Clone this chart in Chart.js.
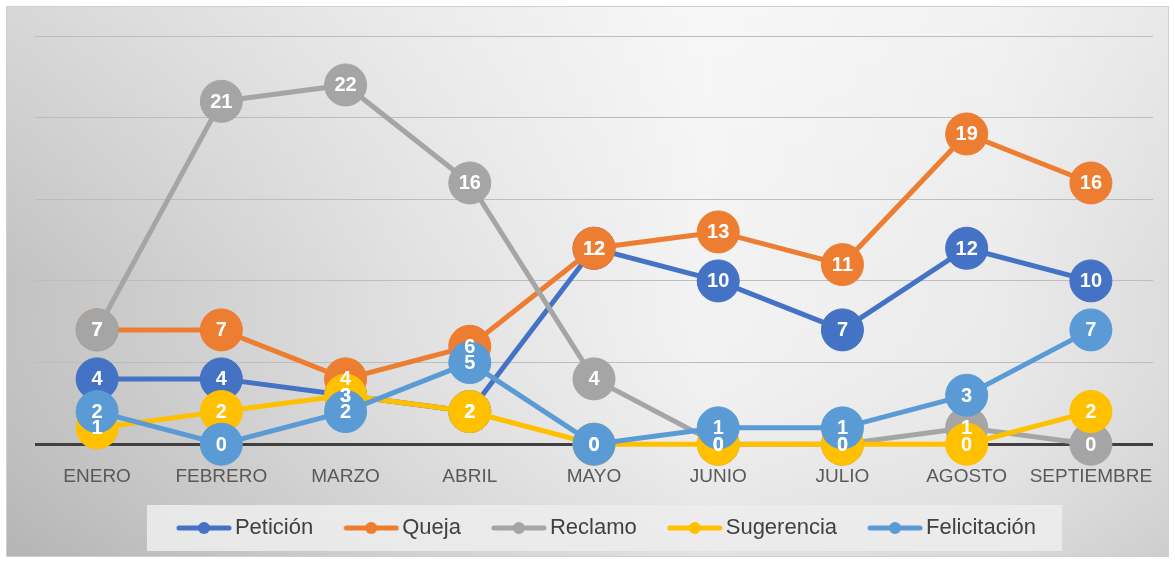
<!DOCTYPE html>
<html>
<head>
<meta charset="utf-8">
<script src="https://cdn.jsdelivr.net/npm/chart.js@4.4.0/dist/chart.umd.min.js"></script>
<style>
  html, body { margin: 0; padding: 0; background: #ffffff; }
  #wrap { width: 1175px; height: 562px; position: relative; }
  canvas { display: block; }
</style>
</head>
<body>
<div id="wrap"><canvas id="c" width="1175" height="562"></canvas></div>
<script>
const categories = ['ENERO','FEBRERO','MARZO','ABRIL','MAYO','JUNIO','JULIO','AGOSTO','SEPTIEMBRE'];
const peticion     = [4, 4, 3, 2, 12, 10, 7, 12, 10];
const queja        = [7, 7, 4, 6, 12, 13, 11, 19, 16];
const reclamo      = [7, 21, 22, 16, 4, 0, 0, 1, 0];
const sugerencia   = [1, 2, 3, 2, 0, 0, 0, 0, 2];
const felicitacion = [2, 0, 2, 5, 0, 1, 1, 3, 7];
const seriesNames  = ['Petición','Queja','Reclamo','Sugerencia','Felicitación'];
const seriesColors = ['#4472C4','#ED7D31','#A5A5A5','#FFC000','#5B9BD5'];
const yMin = 0, yMax = 25, yStep = 5;

const FONT = "'Liberation Sans', Arial, sans-serif";
const LEG_W = 70;

function legendSymbol(color) {
  const c = document.createElement('canvas');
  c.width = LEG_W + 16; c.height = 14;
  const g = c.getContext('2d');
  const x0 = c.width - 56;
  g.strokeStyle = color; g.lineWidth = 5; g.lineCap = 'round';
  g.beginPath(); g.moveTo(x0 + 3, 7); g.lineTo(x0 + 53, 7); g.stroke();
  g.fillStyle = color;
  g.beginPath(); g.arc(x0 + 28, 7, 6, 0, Math.PI * 2); g.fill();
  return c;
}
const symbols = seriesColors.map(legendSymbol);

const bgPlugin = {
  id: 'bg',
  beforeDraw(chart) {
    const ctx = chart.ctx, W = chart.width, H = chart.height;
    ctx.save();
    ctx.fillStyle = '#ffffff';
    ctx.fillRect(0, 0, W, H);
    const x0 = 7, y0 = 7, x1 = W - 7, y1 = H - 6;
    const g = ctx.createLinearGradient(x0, 0, x1, 0);
    g.addColorStop(0, '#c2c2c2');
    g.addColorStop(0.35, '#e1e1e1');
    g.addColorStop(0.6, '#f3f3f3');
    g.addColorStop(0.85, '#ebebeb');
    g.addColorStop(1, '#dddddd');
    ctx.fillStyle = g;
    ctx.fillRect(x0, y0, x1 - x0, y1 - y0);
    const v = ctx.createLinearGradient(0, y0, 0, y1);
    v.addColorStop(0, 'rgba(255,255,255,0.35)');
    v.addColorStop(0.5, 'rgba(255,255,255,0)');
    v.addColorStop(1, 'rgba(0,0,0,0.07)');
    ctx.fillStyle = v;
    ctx.fillRect(x0, y0, x1 - x0, y1 - y0);
    ctx.strokeStyle = '#cfcfcf';
    ctx.lineWidth = 1;
    ctx.strokeRect(x0 - 0.5, y0 - 0.5, x1 - x0 + 1, y1 - y0 + 1);
    // legend box
    const lg = chart.legend;
    if (lg && lg.legendHitBoxes && lg.legendHitBoxes.length) {
      const hb = lg.legendHitBoxes;
      let l = Infinity, r = -Infinity, t = Infinity, b = -Infinity;
      hb.forEach(h => { l = Math.min(l, h.left); r = Math.max(r, h.left + h.width); t = Math.min(t, h.top); b = Math.max(b, h.top + h.height); });
      const cy = (t + b) / 2;
      ctx.fillStyle = 'rgba(236,236,236,0.9)';
      ctx.fillRect(l - 7, cy - 23, (r - l) + 7 + 26, 46);
    }
    ctx.restore();
  }
};

const labelPlugin = {
  id: 'valueLabels',
  afterDatasetsDraw(chart) {
    const ctx = chart.ctx;
    ctx.save();
    ctx.font = 'bold 20px ' + FONT;
    ctx.fillStyle = '#ffffff';
    ctx.textAlign = 'center';
    ctx.textBaseline = 'middle';
    chart.data.datasets.forEach((ds, i) => {
      const meta = chart.getDatasetMeta(i);
      meta.data.forEach((pt, j) => {
        ctx.fillText(String(ds.data[j]), pt.x, pt.y + 1);
      });
    });
    ctx.restore();
  }
};

const seriesData = [peticion, queja, reclamo, sugerencia, felicitacion];
const datasets = seriesData.map((d, i) => ({
  label: seriesNames[i],
  data: d,
  borderColor: seriesColors[i],
  backgroundColor: seriesColors[i],
  pointBackgroundColor: seriesColors[i],
  pointBorderColor: seriesColors[i],
  pointBorderWidth: 1,
  borderWidth: 5,
  pointRadius: 21,
  pointHoverRadius: 21,
  tension: 0,
  clip: false,
  order: seriesData.length - i
}));

new Chart(document.getElementById('c'), {
  type: 'line',
  data: { labels: categories, datasets },
  plugins: [bgPlugin, labelPlugin],
  options: {
    responsive: false,
    animation: false,
    events: [],
    layout: { padding: { top: 36, left: 35, right: 20, bottom: 13 } },
    scales: {
      x: {
        offset: true,
        grid: { display: false, drawTicks: false },
        border: { display: false },
        ticks: { color: '#595959', font: { family: FONT, size: 19 }, padding: 21, maxRotation: 0, autoSkip: false }
      },
      y: {
        min: yMin, max: yMax,
        ticks: { display: false, stepSize: yStep },
        border: { display: false },
        grid: {
          drawTicks: false,
          color: ctx => ctx.tick && ctx.tick.value === 0 ? '#404040' : '#bdbdbd',
          lineWidth: ctx => ctx.tick && ctx.tick.value === 0 ? 3 : 1
        }
      }
    },
    plugins: {
      tooltip: { enabled: false },
      legend: {
        position: 'bottom',
        labels: {
          usePointStyle: true,
          pointStyleWidth: LEG_W,
          color: '#404040',
          font: { family: FONT, size: 22 },
          padding: 8,
          sort: (a, b) => a.datasetIndex - b.datasetIndex,
          generateLabels(chart) {
            const items = Chart.defaults.plugins.legend.labels.generateLabels(chart);
            items.forEach(it => { it.pointStyle = symbols[it.datasetIndex]; });
            return items;
          }
        }
      }
    }
  }
});
</script>
</body>
</html>
